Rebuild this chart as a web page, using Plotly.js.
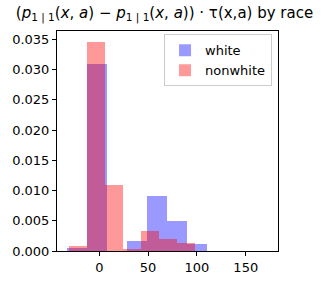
<!DOCTYPE html>
<html>
<head>
<meta charset="utf-8">
<script src="https://cdn.plot.ly/plotly-3.0.1.min.js"></script>
<style>html,body{margin:0;padding:0;background:#fff;}#chart{width:329px;height:283px;}</style>
</head>
<body>
<div id="chart"></div>
<script>
// Histogram bin edges and densities
const whiteEdges = [-33.4, -12.9, 7.6, 28.1, 48.6, 69.1, 89.6, 110.1];
const whiteDensity = [0.00045, 0.0310, 0.0, 0.0017, 0.0091, 0.0049, 0.00118];
const nonwhiteEdges = [-31.4, -12.9, 5.6, 24.1, 42.6, 61.1, 79.6, 98.1];
const nonwhiteDensity = [0.00088, 0.0346, 0.0109, 0.00035, 0.0033, 0.0020, 0.0013];
const seriesNames = ["white", "nonwhite"];
const yTicks = [0, 0.005, 0.01, 0.015, 0.02, 0.025, 0.03, 0.035];
const xTicks = [0, 50, 100, 150];

function centers(e){ const c=[]; for(let i=0;i<e.length-1;i++) c.push((e[i]+e[i+1])/2); return c; }
function widths(e){ const w=[]; for(let i=0;i<e.length-1;i++) w.push(e[i+1]-e[i]); return w; }

const font = "DejaVu Sans, sans-serif";
const traces = [
  {type:"bar", name:seriesNames[0], x:centers(whiteEdges), y:whiteDensity, width:widths(whiteEdges),
   marker:{color:"rgba(0,0,255,0.4)", line:{width:0}}},
  {type:"bar", name:seriesNames[1], x:centers(nonwhiteEdges), y:nonwhiteDensity, width:widths(nonwhiteEdges),
   marker:{color:"rgba(255,0,0,0.4)", line:{width:0}}}
];
const layout = {
  width:329, height:283,
  margin:{l:57, r:51, t:31, b:32, pad:0},
  paper_bgcolor:"#fff", plot_bgcolor:"#fff",
  barmode:"overlay", bargap:0,
  font:{family:font, size:13, color:"#000"},
  title:{text:"(<i>p</i><sub>1 | 1</sub>(<i>x</i>, <i>a</i>) − <i>p</i><sub>1 | 1</sub>(<i>x</i>, <i>a</i>)) · τ(x,a) by race",
         font:{family:font, size:15, color:"#000"}, x:0.5, xanchor:"center", y:0.955, yanchor:"middle"},
  xaxis:{range:[-43.3, 183], tickvals:xTicks, ticktext:xTicks.map(String), ticks:"outside", ticklen:4, tickwidth:1,
         tickcolor:"#000", showline:true, linecolor:"#000", linewidth:1, mirror:true, showgrid:false, zeroline:false,
         tickfont:{family:font, size:13}},
  yaxis:{range:[0, 0.0364], tickvals:yTicks, ticktext:yTicks.map(v=>v.toFixed(3)), ticks:"outside", ticklen:4, tickwidth:1,
         tickcolor:"#000", showline:true, linecolor:"#000", linewidth:1, mirror:true, showgrid:false, zeroline:false,
         tickfont:{family:font, size:13}},
  showlegend:true,
  legend:{x:0.973, xanchor:"right", y:0.985, yanchor:"top", bgcolor:"rgba(255,255,255,0.8)", bordercolor:"#ccc", borderwidth:1,
          font:{family:font, size:13}, traceorder:"normal"}
};
Plotly.newPlot("chart", traces, layout, {staticPlot:true, displayModeBar:false});
</script>
</body>
</html>
